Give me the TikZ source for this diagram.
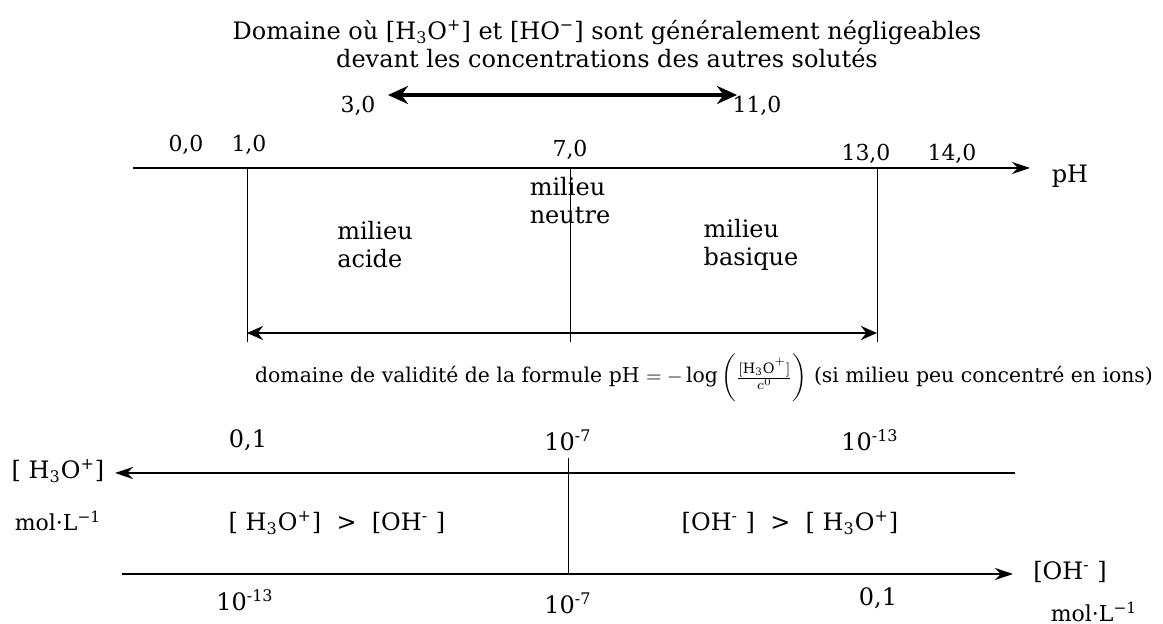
\documentclass[tikz,border=0pt]{standalone}
\usepackage{fontspec}
\setmainfont{DejaVu Serif}
\usetikzlibrary{arrows.meta}
\newcommand{\hto}{[H\textsubscript{3}O\textsuperscript{+}]}
\newcommand{\hoion}{[HO\textsuperscript{−}]}
\newcommand{\ohm}{[OH\textsuperscript{-} ]}
\newcommand{\mol}{mol·L\textsuperscript{−1}}
\begin{document}
\begin{tikzpicture}[x=0.5pt,y=-0.5pt,
    lbl/.style={inner sep=1pt,font=\fontsize{11}{13}\selectfont},
    moyen/.style={inner sep=1pt,font=\fontsize{12}{14}\selectfont},
    zone/.style={moyen,align=left},
    axe/.style={line width=0.8pt,-{Stealth[length=9pt,width=6pt]}},
    trait/.style={line width=0.5pt}]
  \useasboundingbox (0,0) rectangle (1163,624);

  % titre et domaine 3,0 - 11,0
  \node[moyen,align=center] (titre) at (607,44) {Domaine où \hto{} et \hoion{} sont généralement négligeables\\devant les concentrations des autres solutés};
  \node[lbl] (v3) at (358,106) {3,0};
  \node[lbl] (v11) at (757,106) {11,0};
  \coordinate (g1) at (388,95);
  \coordinate (d1) at (737,95);
  \draw[line width=2.2pt,{Stealth[length=10pt,width=9pt]}-{Stealth[length=10pt,width=9pt]}] (g1) -- (d1);

  % axe des pH
  \coordinate (phg) at (133,168);
  \coordinate (phd) at (1030,168);
  \draw[axe] (phg) -- (phd);
  \node[moyen] (ph) at (1070,176) {pH};
  \node[lbl] (p0) at (186,145) {0,0};
  \node[lbl] (p1) at (249,145) {1,0};
  \node[lbl] (p7) at (570,150) {7,0};
  \node[lbl] (p13) at (866,154) {13,0};
  \node[lbl] (p14) at (952,154) {14,0};
  \foreach \x in {247,570,877}
    \draw[trait] (\x,168) -- (\x,342);
  \node[zone] (neutre) at (570,201) {milieu\\neutre};
  \node[zone] (acide) at (375,245) {milieu\\acide};
  \node[zone] (basique) at (751,245) {milieu\\basique};

  % domaine de validite
  \coordinate (vg) at (247,333);
  \coordinate (vd) at (877,333);
  \draw[line width=1.1pt,{Stealth[length=8pt,width=7pt]}-{Stealth[length=8pt,width=7pt]}] (vg) -- (vd);
  \node[inner sep=1pt,font=\fontsize{10.2}{12}\selectfont] (formule) at (704,378) {domaine de validité de la formule pH $=-\log\left(\frac{[\mathrm{H_3O^+}]}{c^0}\right)$ (si milieu peu concentré en ions)};

  % axe [H3O+]
  \coordinate (hd) at (1015,473);
  \coordinate (hg) at (115,473);
  \draw[axe] (hd) -- (hg);
  \node[moyen] (hto) at (58,471) {[ H\textsubscript{3}O\textsuperscript{+}]};
  \node[lbl] (molh) at (58,521) {\mol};
  \node[moyen] (h1) at (248,440) {0,1};
  \node[moyen] (h7) at (568,440) {10\textsuperscript{-7}};
  \node[moyen] (h13) at (870,440) {10\textsuperscript{-13}};
  \draw[trait] (568,458) -- (568,575);
  \node[moyen] (cmp1) at (337,523) {[ H\textsubscript{3}O\textsuperscript{+}] \ > \ \ohm};
  \node[moyen] (cmp2) at (790,523) {\ohm{} \ > \ [ H\textsubscript{3}O\textsuperscript{+}]};

  % axe [OH-]
  \coordinate (og) at (122,574);
  \coordinate (od) at (1013,574);
  \draw[axe] (og) -- (od);
  \node[moyen] (ohm) at (1070,572) {\ohm};
  \node[lbl] (molo) at (1094,612) {\mol};
  \node[moyen] (o13) at (245,600) {10\textsuperscript{-13}};
  \node[moyen] (o7) at (568,603) {10\textsuperscript{-7}};
  \node[moyen] (o1) at (878,598) {0,1};
\end{tikzpicture}
\end{document}
